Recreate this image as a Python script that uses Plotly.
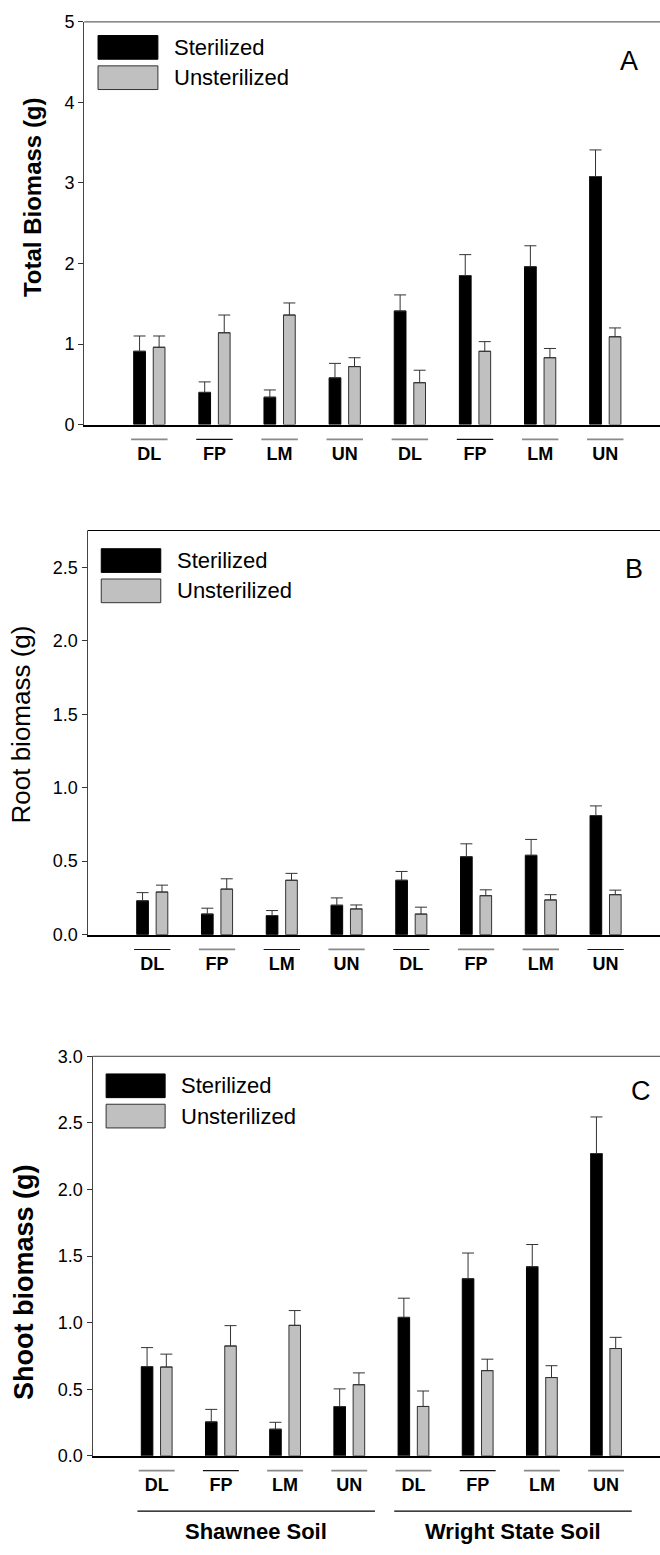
import plotly.graph_objects as go

# ---------------- data ----------------
categories = ["DL", "FP", "LM", "UN", "DL", "FP", "LM", "UN"]
soil_groups = ["Shawnee Soil", "Wright State Soil"]
soil_members = [[0, 1, 2, 3], [4, 5, 6, 7]]
series_names = ["Sterilized", "Unsterilized"]

total_ster = [0.91, 0.40, 0.34, 0.58, 1.41, 1.85, 1.96, 3.08]
total_ster_se = [0.19, 0.13, 0.09, 0.18, 0.20, 0.26, 0.26, 0.33]
total_unst = [0.96, 1.14, 1.36, 0.72, 0.52, 0.91, 0.83, 1.09]
total_unst_se = [0.14, 0.22, 0.15, 0.11, 0.155, 0.12, 0.115, 0.11]

root_ster = [0.23, 0.14, 0.13, 0.20, 0.37, 0.53, 0.54, 0.81]
root_ster_se = [0.056, 0.04, 0.034, 0.05, 0.06, 0.088, 0.108, 0.066]
root_unst = [0.29, 0.31, 0.37, 0.175, 0.14, 0.265, 0.236, 0.272]
root_unst_se = [0.047, 0.07, 0.047, 0.027, 0.047, 0.04, 0.036, 0.031]

shoot_ster = [0.67, 0.255, 0.20, 0.37, 1.04, 1.33, 1.42, 2.27]
shoot_ster_se = [0.143, 0.094, 0.052, 0.133, 0.144, 0.193, 0.167, 0.275]
shoot_unst = [0.667, 0.825, 0.98, 0.534, 0.371, 0.64, 0.588, 0.806]
shoot_unst_se = [0.097, 0.153, 0.111, 0.089, 0.116, 0.086, 0.089, 0.084]

# ---------------- layout helpers ----------------
W, H = 660, 1555
FONT = "Liberation Sans, Arial, Helvetica, sans-serif"
positions = list(range(1, len(categories) + 1))
XMAX = 8.84
BAR_W = 0.18
BAR_SHIFT = 0.15
BLACK = "#000000"
GRAY = "#c0c0c0"
EDGE = "#333333"
UL_GRAY = dict(color="#8a8a8a", width=1.8)
UL_BLACK = dict(color="#111111", width=1.1)

panels = [
    dict(ster=total_ster, ster_se=total_ster_se, unst=total_unst, unst_se=total_unst_se,
         ymax=5, dtick=1, fmt="d", title="Total Biomass (g)", bold=True, tsize=24,
         letter="A", letter_x=0.947, letter_y=0.904, legend_top=0.966,
         axis_px=84.2, top_px=12, bottom_px=420,
         title_px=32, title_yc=0.565, border="#666666",
         ul=[UL_GRAY, UL_BLACK, UL_GRAY, UL_GRAY, UL_GRAY, UL_BLACK, UL_GRAY, UL_GRAY]),
    dict(ster=root_ster, ster_se=root_ster_se, unst=root_unst, unst_se=root_unst_se,
         ymax=2.75, dtick=0.5, fmt=".1f", title="Root biomass (g)", bold=False, tsize=26,
         letter="B", letter_x=0.954, letter_y=0.904, legend_top=0.955,
         axis_px=87.5, top_px=527.3, bottom_px=936.7,
         title_px=21, title_yc=0.52, border="#000000",
         ul=[UL_BLACK, UL_GRAY, UL_BLACK, UL_GRAY, UL_BLACK, UL_GRAY, UL_GRAY, UL_BLACK]),
    dict(ster=shoot_ster, ster_se=shoot_ster_se, unst=shoot_unst, unst_se=shoot_unst_se,
         ymax=3.0, dtick=0.5, fmt=".1f", title="Shoot biomass (g)", bold=True, tsize=27,
         letter="C", letter_x=0.966, letter_y=0.9135, legend_top=0.956,
         axis_px=92.5, top_px=1060, bottom_px=1464.7,
         title_px=24, title_yc=0.435, border="#666666",
         ul=[UL_GRAY, UL_BLACK, UL_GRAY, UL_GRAY, UL_GRAY, UL_BLACK, UL_GRAY, UL_GRAY]),
]

fig = go.Figure()
shapes = []
annotations = []

for i, p in enumerate(panels):
    sfx = "" if i == 0 else str(i + 1)
    xa, ya = "x" + sfx, "y" + sfx
    for name, vals, se, color, shift in [
        (series_names[0], p["ster"], p["ster_se"], BLACK, -BAR_SHIFT),
        (series_names[1], p["unst"], p["unst_se"], GRAY, BAR_SHIFT),
    ]:
        fig.add_trace(go.Bar(
            x=positions, y=vals, name=name, showlegend=False,
            xaxis=xa, yaxis=ya, width=BAR_W, offset=shift - BAR_W / 2,
            marker=dict(color=color, line=dict(color=BLACK if color == BLACK else EDGE, width=1)),
            error_y=dict(type="data", array=se, arrayminus=[0] * len(se), symmetric=False,
                         color=EDGE, thickness=1, width=6),
        ))

    height_px = p["bottom_px"] - p["top_px"]
    x_dom = [p["axis_px"] / W, 1.0]
    y_dom = [(H - p["bottom_px"]) / H, (H - p["top_px"]) / H]
    fig.layout["xaxis" + sfx] = dict(
        domain=x_dom, anchor=ya, range=[0, XMAX], tickvals=positions, ticktext=categories,
        ticks="", showline=True, linecolor=BLACK, linewidth=1.6, showgrid=False, zeroline=False,
        tickfont=dict(family=FONT, size=18, color=BLACK, weight="bold"), ticklabelstandoff=12,
        fixedrange=True,
    )
    fig.layout["yaxis" + sfx] = dict(
        domain=y_dom, anchor=xa, range=[0, p["ymax"]], dtick=p["dtick"], tick0=0,
        tickformat=p["fmt"], ticks="outside", ticklen=5, tickcolor=EDGE, tickwidth=1,
        showline=True, linecolor="#444444", linewidth=1, showgrid=False, zeroline=False,
        tickfont=dict(family=FONT, size=18, color=BLACK), fixedrange=True,
    )

    # top frame line
    shapes.append(dict(type="line", xref=xa + " domain", yref=ya + " domain",
                       x0=0, x1=1, y0=1, y1=1, line=dict(color=p["border"], width=1.2)))

    # underline above each category label
    y_ul = (H - (p["bottom_px"] + 15)) / H
    for pos, ls in zip(positions, p["ul"]):
        shapes.append(dict(type="line", xref=xa, yref="paper", x0=pos - 0.28, x1=pos + 0.28,
                           y0=y_ul, y1=y_ul, line=ls))

    # legend (drawn manually to get the wide swatches)
    sw_h = 24.0 / height_px
    step = 30.7 / height_px
    for k, (name, fill, edge) in enumerate([(series_names[0], BLACK, BLACK),
                                            (series_names[1], GRAY, EDGE)]):
        y_top = p["legend_top"] - k * step
        shapes.append(dict(type="rect", xref=xa + " domain", yref=ya + " domain",
                           x0=0.024, x1=0.128, y0=y_top - sw_h, y1=y_top,
                           fillcolor=fill, line=dict(color=edge, width=1)))
        annotations.append(dict(xref=xa + " domain", yref=ya + " domain", x=0.152,
                                y=y_top - sw_h / 2, text=name, showarrow=False,
                                xanchor="left", yanchor="middle",
                                font=dict(family=FONT, size=22, color=BLACK)))

    # panel letter
    annotations.append(dict(xref=xa + " domain", yref=ya + " domain", x=p["letter_x"],
                            y=p["letter_y"], text=p["letter"], showarrow=False,
                            xanchor="center", yanchor="middle",
                            font=dict(family=FONT, size=27, color=BLACK)))

    # y-axis title
    annotations.append(dict(xref="paper", yref=ya + " domain", x=p["title_px"] / W, y=p["title_yc"],
                            text=p["title"], showarrow=False, textangle=-90,
                            xanchor="center", yanchor="middle",
                            font=dict(family=FONT, size=p["tsize"], color=BLACK,
                                      weight="bold" if p["bold"] else "normal")))

# soil group lines and labels (panel C)
last = panels[-1]
y_line = (H - (last["bottom_px"] + 56)) / H
y_text = (H - (last["bottom_px"] + 77)) / H
for name, members in zip(soil_groups, soil_members):
    x0 = positions[members[0]] - 0.3
    x1 = positions[members[-1]] + 0.4
    shapes.append(dict(type="line", xref="x3", yref="paper", x0=x0, x1=x1, y0=y_line, y1=y_line,
                       line=dict(color=BLACK, width=1.2)))
    annotations.append(dict(xref="x3", yref="paper", x=(x0 + x1) / 2, y=y_text, text=name,
                            showarrow=False, xanchor="center", yanchor="middle",
                            font=dict(family=FONT, size=22, color=BLACK, weight="bold")))

fig.update_layout(
    width=W, height=H, margin=dict(l=0, r=0, t=0, b=0),
    paper_bgcolor="white", plot_bgcolor="white", barmode="overlay",
    shapes=shapes, annotations=annotations, showlegend=False,
    font=dict(family=FONT, color=BLACK),
)

fig.write_html("out.html")
